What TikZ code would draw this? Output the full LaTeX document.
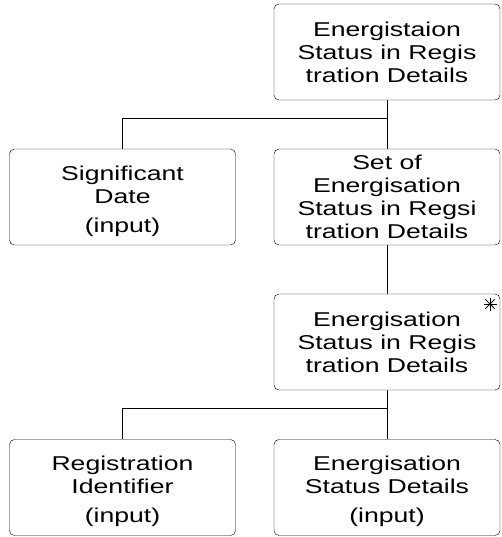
\documentclass[tikz,border=0pt]{standalone}
\usepackage{fontspec}
\setmainfont{Liberation Sans}
\newfontfamily\boxfont[FakeStretch=1.33]{Liberation Sans}
\usepackage{tikz}

\begin{document}
\begin{tikzpicture}[x=1pt, y=-1pt,
		box/.style={draw, rounded corners=5pt, minimum width=226pt, minimum height=96pt,
			align=center, inner sep=0pt, font=\boxfont\fontsize{20}{23}\selectfont},
		link/.style={draw, line width=0.8pt}]
		\useasboundingbox (0, 0) rectangle (501, 537);
		\node[box] (top) at (387, 52) {Energistaion\\Status in Regis\\tration Details};
		\node[box] (sigdate) at (122.5, 197) {\rule{0pt}{23pt}Significant\\Date\\[6pt](input)};
		\node[box] (setof) at (387, 197) {Set of\\Energisation\\Status in Regsi\\tration Details};
		\node[box] (status) at (387, 342) {Energisation\\Status in Regis\\tration Details};
		\node[box] (regid) at (122.5, 487.5) {\rule{0pt}{23pt}Registration\\Identifier\\[6pt](input)};
		\node[box] (details) at (387, 487.5) {\rule{0pt}{23pt}Energisation\\Status Details\\[6pt](input)};
		% iteration mark
		\coordinate (star) at (490, 304);
		\foreach \a in {0, 45, 90, 135}
			\draw[line width=0.9pt] (star) +(\a:6.5) -- +(\a+180:6.5);
		\path (top.south) ++(0, 18) coordinate (j1);
		\path (status.south) ++(0, 18) coordinate (j2);
		\draw[link] (top) -- (setof);
		\draw[link] (j1) -| (sigdate.north);
		\draw[link] (setof) -- (status);
		\draw[link] (status) -- (details);
		\draw[link] (j2) -| (regid.north);
	\end{tikzpicture}
\end{document}
